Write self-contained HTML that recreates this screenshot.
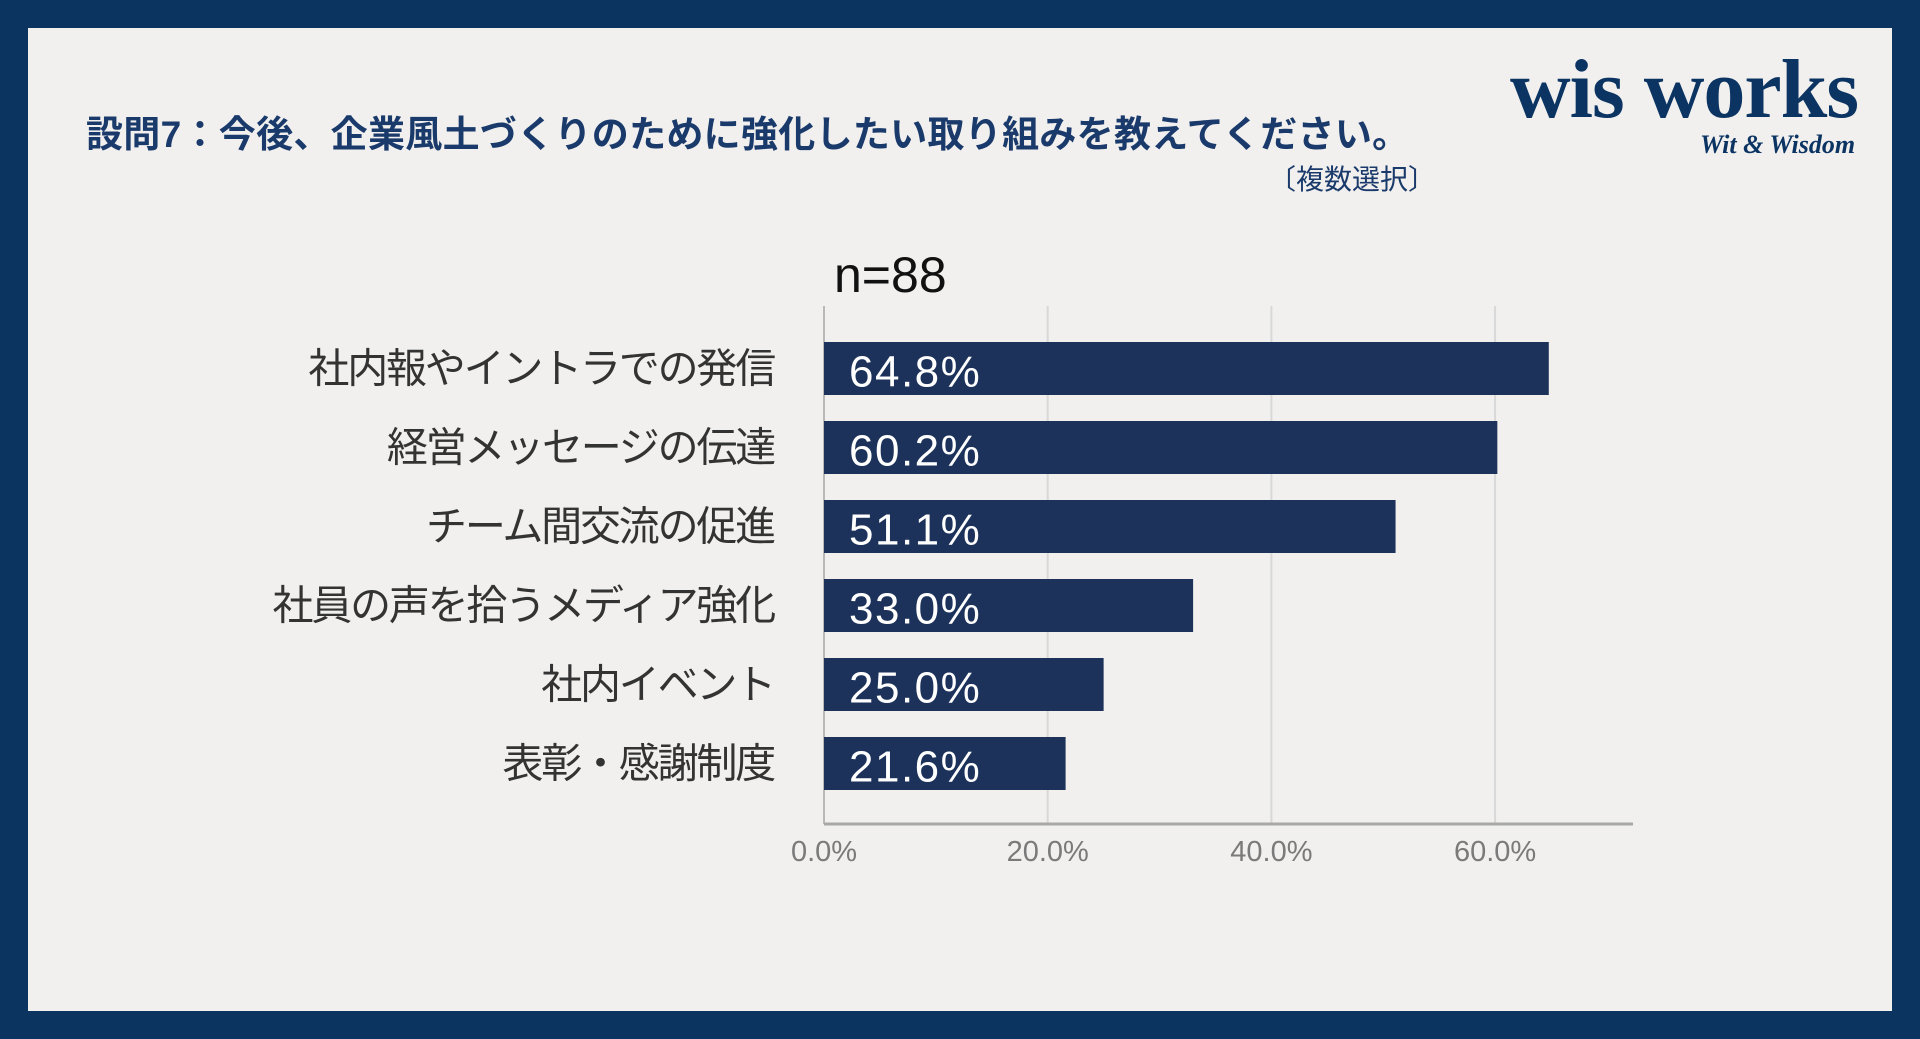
<!DOCTYPE html>
<html><head><meta charset="utf-8"><style>
html,body{margin:0;padding:0}
body{width:1920px;height:1039px;background:#0b3461;position:relative;overflow:hidden;font-family:"Liberation Sans","Noto Sans CJK JP",sans-serif}
#panel{position:absolute;left:28px;top:28px;width:1864px;height:983px;background:#f1f0ee}
.abs{position:absolute;white-space:nowrap}
</style></head><body>
<div id="panel"></div>
<div class="abs" style="left:86px;top:104px;font-size:37px;font-weight:bold;color:#1a3a6b;letter-spacing:0.3px">設問7：今後、企業風土づくりのために強化したい取り組みを教えてください。</div>
<div class="abs" style="left:1268px;top:158px;font-size:28px;color:#1a3a6b">〔複数選択〕</div>
<div class="abs" style="left:1510px;top:50px;font-family:'Liberation Serif',serif;font-weight:bold;font-size:84px;color:#0c3463;letter-spacing:-1px;line-height:80px">wis works</div>
<div class="abs" style="left:1700px;top:130px;font-family:'Liberation Serif',serif;font-style:italic;font-weight:bold;font-size:26px;color:#0c3463">Wit &amp; Wisdom</div>
<svg id="chart" width="1920" height="1039" style="position:absolute;left:0;top:0"></svg>
<script>
const categories=["社内報やイントラでの発信","経営メッセージの伝達","チーム間交流の促進","社員の声を拾うメディア強化","社内イベント","表彰・感謝制度"];
const values=[64.8,60.2,51.1,33.0,25.0,21.6];
const valueLabels=["64.8%","60.2%","51.1%","33.0%","25.0%","21.6%"];
const ticks=[0,20,40,60];
const tickLabels=["0.0%","20.0%","40.0%","60.0%"];
const NS="http://www.w3.org/2000/svg";
const svg=document.getElementById('chart');
const x0=824,pxPer=223.7/20,yTop=306,yBot=824,band=79,firstC=368.5,barH=53;
const xs=v=>x0+v*pxPer;
const yc=i=>firstC+i*band;
function mk(t,a){const e=document.createElementNS(NS,t);for(const k in a)e.setAttribute(k,a[k]);svg.appendChild(e);return e;}
ticks.forEach((t,i)=>{
  if(t>0){const g=mk('line',{x1:xs(t),x2:xs(t),y1:yTop,y2:yBot,stroke:'#d8d8d8','stroke-width':2});
  
  }
  const tl=mk('text',{x:xs(t),y:861,'text-anchor':'middle','font-size':29,fill:'#7a7a7a','font-family':'Liberation Sans, sans-serif'});
  tl.textContent=tickLabels[i];
  
  
});
const ax=mk('line',{x1:x0,x2:x0,y1:yTop,y2:yBot,stroke:'#b8b8b8','stroke-width':2});


const bx=mk('line',{x1:x0,x2:1633,y1:yBot,y2:yBot,stroke:'#a8a8a8','stroke-width':3});


values.forEach((v,i)=>{
  const r=mk('rect',{x:x0,y:yc(i)-barH/2,width:xs(v)-x0,height:barH,fill:'#1c325a'});
  
  
  const t=mk('text',{x:849,y:yc(i)+18,'font-size':44,'letter-spacing':1.5,fill:'#ffffff','font-family':'Liberation Sans, sans-serif'});
  t.textContent=valueLabels[i];
  
  
  const c=mk('text',{x:774,y:yc(i)+14,'text-anchor':'end','font-size':41,'letter-spacing':-2.2,fill:'#333333','font-family':'Liberation Sans, Noto Sans CJK JP, sans-serif'});
  c.textContent=categories[i];
  
  
});
const n=mk('text',{x:834,y:292,'font-size':50,fill:'#111111','font-family':'Liberation Sans, sans-serif'});
n.textContent='n=88';


</script>
</body></html>
